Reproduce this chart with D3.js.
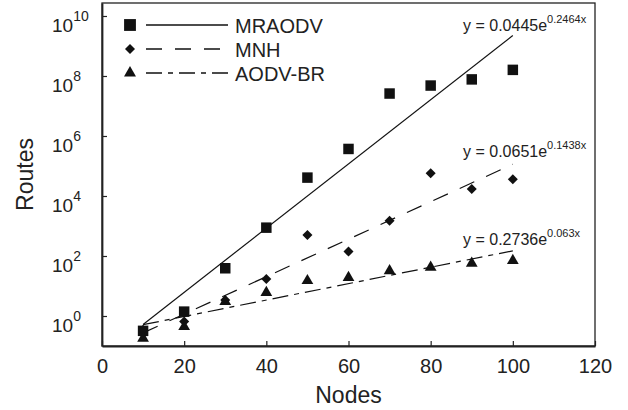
<!DOCTYPE html>
<html>
<head>
<meta charset="utf-8">
<script src="https://cdn.jsdelivr.net/npm/d3@7"></script>
<style>
  html, body { margin: 0; padding: 0; background: #fff; }
  svg { display: block; font-family: "Liberation Sans", Arial, sans-serif; }
</style>
</head>
<body>
<svg id="chart"></svg>
<script>
// nodes on the x axis
const nodes = [10, 20, 30, 40, 50, 60, 70, 80, 90, 100];

// routes per protocol
const mraodv = [0.32, 1.4, 39, 880, 41000, 370000, 2.6e7, 4.8e7, 7.7e7, 1.6e8];
const mnh = [0.35, 0.65, 3.4, 17, 500, 140, 1500, 57000, 17000, 36000];
const aodvbr = [0.18, 0.44, 3.0, 6, 15, 19, 32, 42, 57, 70];

const seriesNames = ["MRAODV", "MNH", "AODV-BR"];

// exponential fits y = a * e^(b x), as printed on the chart
const fitA = [0.0445, 0.0651, 0.2736];
const fitB = [0.2464, 0.1438, 0.063];
const fitLabelA = ["0.0445", "0.0651", "0.2736"];
const fitLabelB = ["0.2464x", "0.1438x", "0.063x"];

const xTicks = [0, 20, 40, 60, 80, 100, 120];
const yTickExps = [0, 2, 4, 6, 8, 10];

const width = 628, height = 410;
const plotLeft = 102, plotRight = 595, plotTop = 3, plotBottom = 346;

const svg = d3.select("#chart").attr("width", width).attr("height", height);

const x = d3.scaleLinear().domain([0, 120]).range([plotLeft, plotRight]);
// 10^0 sits at 316px, 30px per decade
const y = d3.scaleLog().domain([1e-1, Math.pow(10, 10.433)]).range([plotBottom, plotTop]);

// frame
svg.append("rect")
  .attr("x", plotLeft).attr("y", plotTop)
  .attr("width", plotRight - plotLeft).attr("height", plotBottom - plotTop)
  .attr("fill", "none").attr("stroke", "#222").attr("stroke-width", 1.3);

// x axis, ticks point inward
const xAxis = svg.append("g").attr("transform", "translate(0," + plotBottom + ")")
  .call(d3.axisBottom(x).tickValues(xTicks).tickSize(-5).tickSizeOuter(0).tickFormat(d3.format("d")));
xAxis.select(".domain").attr("stroke", "#222").attr("stroke-width", 1.8);
xAxis.selectAll(".tick line").attr("stroke", "#222").attr("stroke-width", 1.2);
xAxis.selectAll(".tick text")
  .attr("y", 27).attr("dy", 0)
  .attr("font-size", 20).attr("fill", "#222")
  .attr("font-family", "Liberation Sans, Arial, sans-serif");

// y axis, ticks inward, labels as 10^n left aligned
const yAxis = svg.append("g").attr("transform", "translate(" + plotLeft + ",0)")
  .call(d3.axisLeft(y).tickValues(yTickExps.map(e => Math.pow(10, e))).tickSize(-5).tickSizeOuter(0).tickFormat(""));
yAxis.select(".domain").attr("stroke", "#222").attr("stroke-width", 1.8);
yAxis.selectAll(".tick line").attr("stroke", "#222").attr("stroke-width", 1.2);

const yLabels = svg.append("g").selectAll("text")
  .data(yTickExps)
  .enter().append("text")
  .attr("x", 52)
  .attr("y", d => y(Math.pow(10, d)) + 16)
  .attr("font-size", 19).attr("fill", "#222");
yLabels.append("tspan").text("10");
yLabels.append("tspan").attr("font-size", 14).attr("dy", -11).text(d => d);

// axis titles
svg.append("text")
  .attr("x", (plotLeft + plotRight) / 2).attr("y", 403)
  .attr("text-anchor", "middle").attr("font-size", 23).attr("fill", "#222")
  .text("Nodes");
svg.append("text")
  .attr("transform", "translate(33," + (plotTop + plotBottom) / 2 + ") rotate(-90)")
  .attr("text-anchor", "middle").attr("font-size", 23).attr("fill", "#222")
  .text("Routes");

// line styles and markers
const dashes = [null, "16,13", "16,6,5,6"];
const symbols = [d3.symbolSquare, d3.symbolDiamond2 || d3.symbolDiamond, d3.symbolTriangle];
const symSize = [110, 64, 60];
const legendSymSize = [140, 64, 62];
const allSeries = [mraodv, mnh, aodvbr];

// trend lines from 10 to 100 nodes
const line = d3.line().x(d => x(d[0])).y(d => y(d[1]));
fitA.forEach((a, i) => {
  const ends = [nodes[0], nodes[nodes.length - 1]].map(n => [n, a * Math.exp(fitB[i] * n)]);
  svg.append("path")
    .attr("d", line(ends))
    .attr("fill", "none").attr("stroke", "#111").attr("stroke-width", 1.2)
    .attr("stroke-dasharray", dashes[i]);
});

// points
allSeries.forEach((vals, i) => {
  svg.append("g").selectAll("path")
    .data(vals.map((v, j) => [nodes[j], v]))
    .enter().append("path")
    .attr("transform", d => "translate(" + x(d[0]) + "," + y(d[1]) + ")")
    .attr("d", d3.symbol().type(symbols[i]).size(symSize[i]))
    .attr("fill", "#111");
});

// fit equations
const eqBaseline = [30.5, 156.5, 245];
fitA.forEach((a, i) => {
  const t = svg.append("text")
    .attr("x", 463).attr("y", eqBaseline[i])
    .attr("font-size", 16).attr("fill", "#222");
  t.append("tspan").text("y = " + fitLabelA[i] + "e");
  t.append("tspan").attr("font-size", 11).attr("dy", -8).text(fitLabelB[i]);
});

// legend
const legendRows = [25, 49, 73];
seriesNames.forEach((name, i) => {
  const g = svg.append("g").attr("transform", "translate(0," + legendRows[i] + ")");
  g.append("path")
    .attr("transform", "translate(130,0)")
    .attr("d", d3.symbol().type(symbols[i]).size(legendSymSize[i]))
    .attr("fill", "#111");
  g.append("line")
    .attr("x1", 146).attr("x2", 228)
    .attr("stroke", "#111").attr("stroke-width", 1.3)
    .attr("stroke-dasharray", dashes[i]);
  g.append("text")
    .attr("x", 235).attr("y", 8)
    .attr("font-size", 20).attr("fill", "#222")
    .text(name);
});
</script>
</body>
</html>
